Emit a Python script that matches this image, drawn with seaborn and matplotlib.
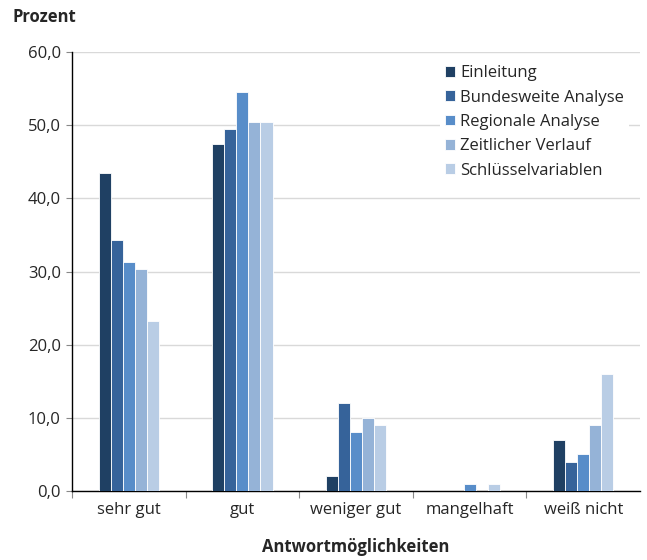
import matplotlib.pyplot as plt
import pandas as pd
import seaborn as sns
from matplotlib.ticker import FuncFormatter, FixedLocator

categories = ['sehr gut', 'gut', 'weniger gut', 'mangelhaft', 'weiß nicht']
series = ['Einleitung', 'Bundesweite Analyse', 'Regionale Analyse',
          'Zeitlicher Verlauf', 'Schlüsselvariablen']
einleitung = [43.4, 47.4, 2.0, 0.0, 7.0]
bundesweit = [34.3, 49.5, 12.0, 0.0, 4.0]
regional = [31.3, 54.5, 8.0, 1.0, 5.0]
zeitlich = [30.3, 50.5, 10.0, 0.0, 9.0]
schluessel = [23.2, 50.5, 9.0, 1.0, 16.0]
colors = ['#1f4063', '#36639a', '#588dc9', '#95b3d7', '#b9cde5']

df = pd.DataFrame({'Antwort': categories * 5,
                   'Teil': [s for s in series for _ in categories],
                   'Prozent': einleitung + bundesweit + regional + zeitlich + schluessel})

sns.set_style('white')
plt.rcParams['font.family'] = ['Open Sans', 'DejaVu Sans']

fig = plt.figure(figsize=(6.47, 5.6), dpi=100)
ax = fig.add_axes([72 / 647, 1 - 491 / 560, 568 / 647, 439 / 560])

sns.barplot(data=df, x='Antwort', y='Prozent', hue='Teil', hue_order=series,
            palette=colors, width=0.53, edgecolor='white', linewidth=0.6,
            saturation=1, ax=ax, zorder=3)

ax.set_ylim(0, 60)
ax.set_xlim(-0.5, 4.5)
ax.yaxis.set_major_locator(FixedLocator(range(0, 61, 10)))
ax.yaxis.set_major_formatter(FuncFormatter(lambda v, p: f'{v:.1f}'.replace('.', ',')))
ax.grid(axis='y', color='#d9d9d9', linewidth=1, zorder=0)
ax.set_axisbelow(True)
for s in ['top', 'right']:
    ax.spines[s].set_visible(False)
for s in ['left', 'bottom']:
    ax.spines[s].set_color('black')
    ax.spines[s].set_linewidth(1)

ax.tick_params(axis='y', length=4, width=0.8, color='#888888', labelsize=12, pad=4, left=True)
ax.set_xticks(range(5))
ax.set_xticklabels(categories, fontsize=12)
ax.tick_params(axis='x', length=0, pad=8, labelsize=12)
ax.set_xticks([i - 0.5 for i in range(5)], minor=True)
ax.tick_params(axis='x', which='minor', length=5, width=0.8, color='#888888', bottom=True)

ax.set_xlabel('Antwortmöglichkeiten', fontsize=12, fontweight='bold', labelpad=14)
ax.set_ylabel('')
fig.text(13 / 647, 1 - 17 / 560, 'Prozent', fontsize=12, fontweight='bold', va='center', ha='left')

leg = ax.legend(loc='upper right', bbox_to_anchor=(0.995, 1.0), frameon=True,
                fontsize=12, handlelength=0.6, handleheight=0.6, handletextpad=0.3,
                labelspacing=0.5, borderpad=0.3)
leg.get_frame().set_facecolor('white')
leg.get_frame().set_edgecolor('none')
leg.get_frame().set_alpha(1)

fig.savefig('out.png', dpi=100)
